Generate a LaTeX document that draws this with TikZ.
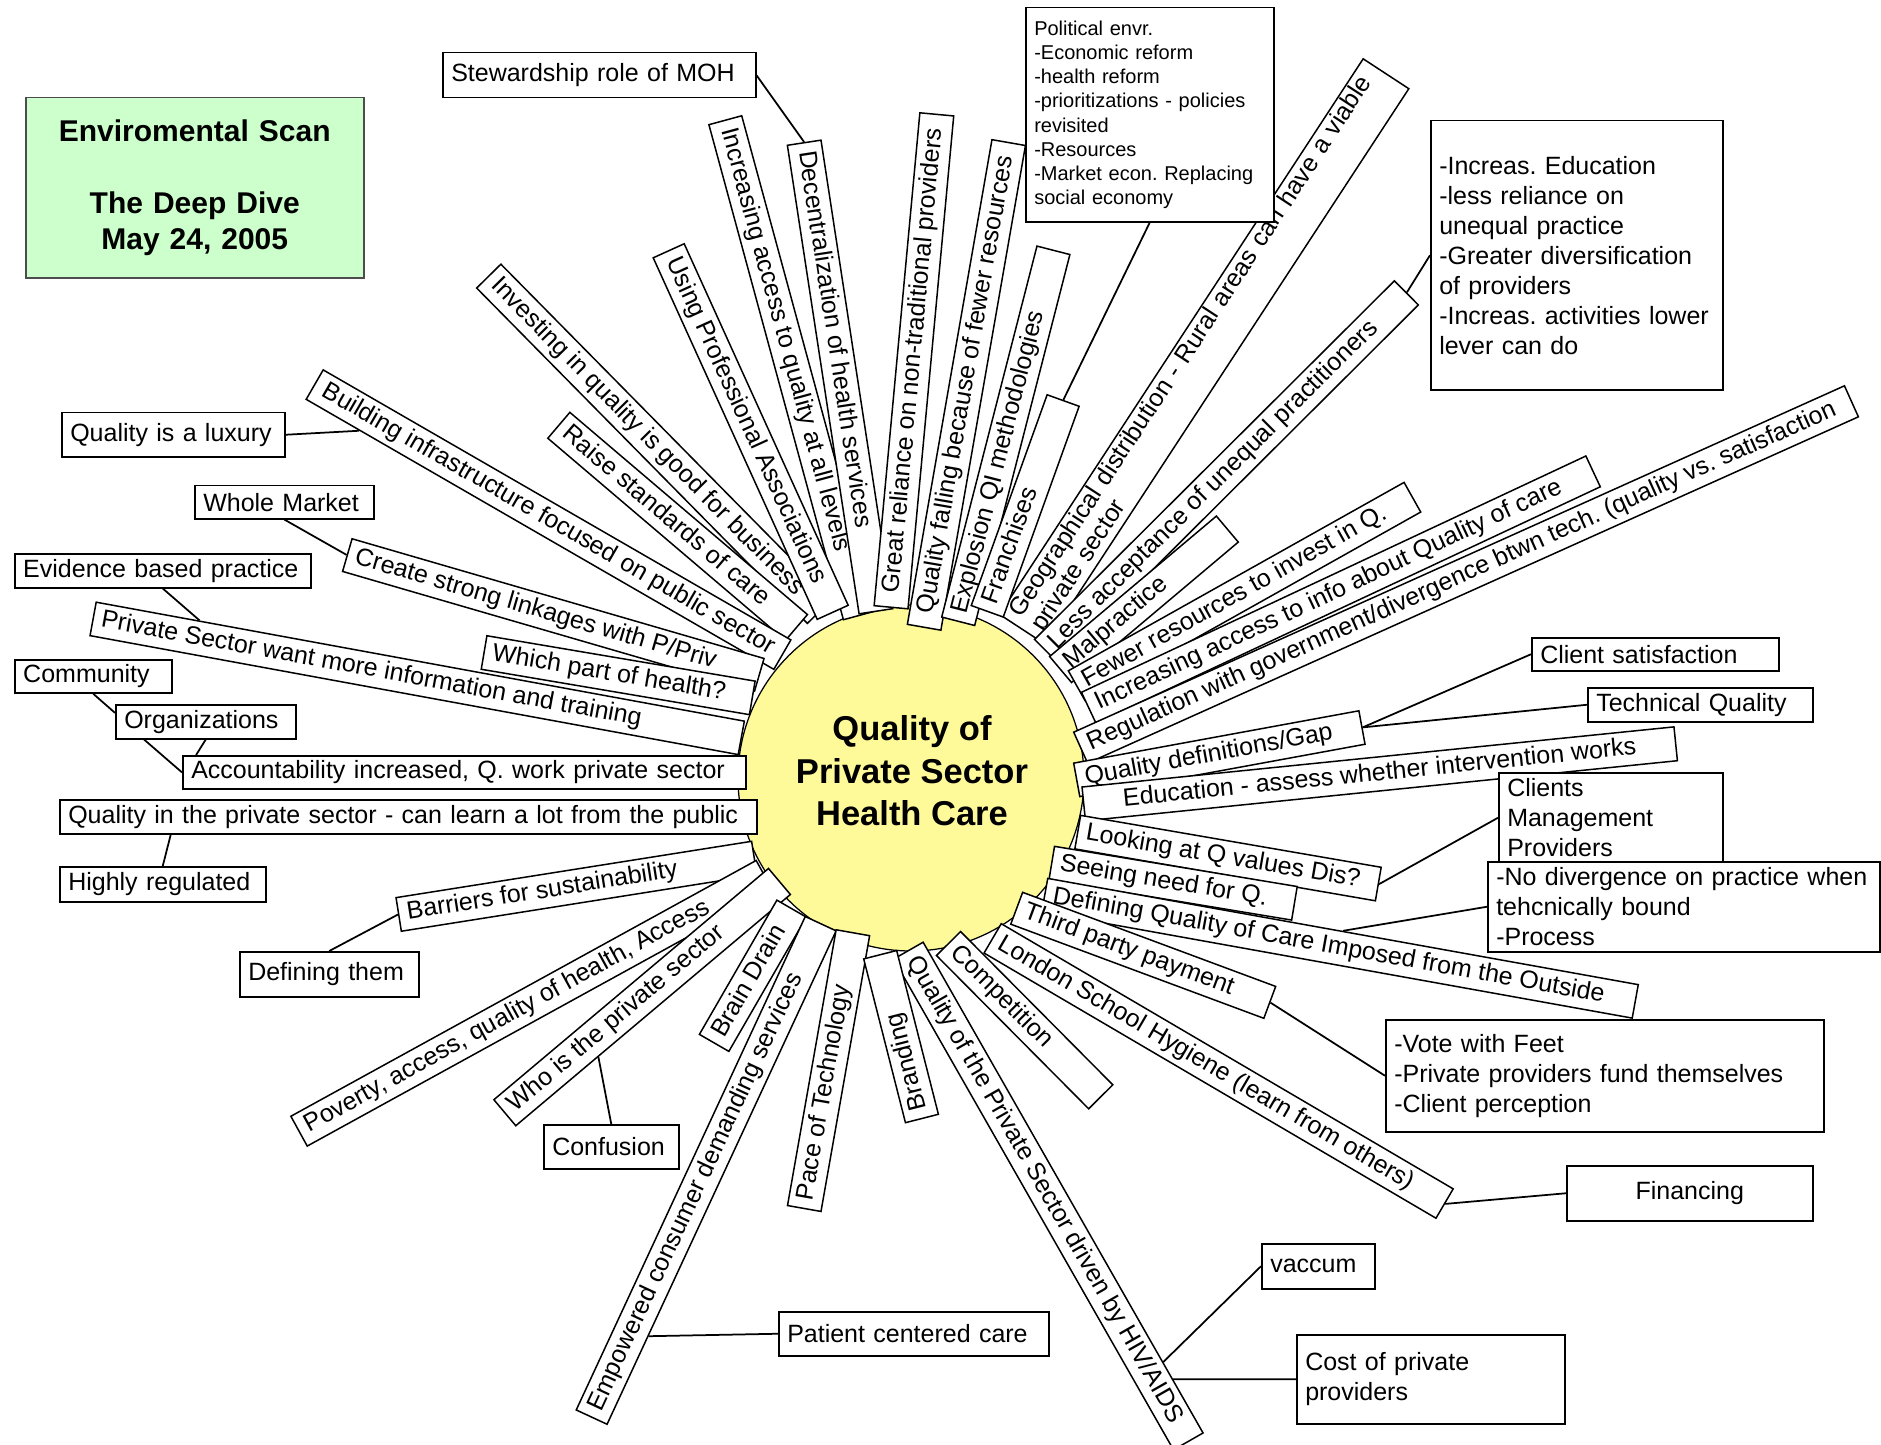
\documentclass[tikz,border=0pt]{standalone}
\usepackage{fontspec}
\setmainfont{Liberation Sans}
\usepackage{tikz}
\usetikzlibrary{calc}
\frenchspacing

\begin{document}
\begin{tikzpicture}[x=0.4pt, y=-0.4pt,
  every node/.style={font=\fontsize{10}{12}\selectfont},
  hub/.style={circle, draw, line width=0.5pt, fill=yellow!40, minimum size=138.4pt, inner sep=0pt},
  spoke/.style={draw, fill=white, line width=0.6pt, inner xsep=3.4pt, inner ysep=0pt,
    minimum height=13.6pt, text height=7.4pt, text depth=2.2pt},
  widespoke/.style={draw, fill=white, line width=0.6pt, inner xsep=3.4pt, inner ysep=1pt,
    align=left, font=\fontsize{10}{10.5}\selectfont},
  note/.style={draw, fill=white, line width=0.6pt, inner xsep=3.4pt, inner ysep=2pt,
    align=left, anchor=north west},
  link/.style={line width=0.7pt}
]
\useasboundingbox (0,0) rectangle (1881,1445);

\node[hub] (hub) at (911,778) {};
\node[font=\fontsize{13.8}{17}\selectfont\bfseries, align=center] (topic) at (912,771)
  {Quality of\\Private Sector\\Health Care};

\node[widespoke, rotate=56.8, anchor=west, text width=258.8pt] (geo) at (1022,630)
  {Geographical distribution - Rural areas can have a viable\\private sector};

\foreach \nm/\px/\py/\rot/\anc/\len/\al/\txt in {
  incacc/860/616/-74.8/east/513/l/{Increasing access to quality at all levels},
  decent/876/612/-81.3/east/474/l/{Decentralization of health services},
  invest/820/612/-45.4/east/471/l/{Investing in quality is good for business},
  profass/833/613/-65.6/east/397/l/{Using Professional Associations},
  raise/797/628/-40.4/east/312/l/{Raise standards of care},
  infra/783/655/-30.0/east/540/c/{Building infrastructure focused on public sector},
  linkage/760/675/-16.2/east/429/l/{Create strong linkages with P/Priv},
  whichpart/753/698/-9.6/east/272/l/{Which part of health?},
  privwant/742/738/-10.4/east/659/l/{Private Sector want more information and training},
  reliance/891/608/84.7/west/495/c/{Great reliance on non-traditional providers},
  falling/924/628/80.1/west/492/c/{Quality falling because of fewer resources},
  explosion/958/622/75.6/west/383/l/{Explosion QI methodologies},
  franchise/987/612/70.2/west/224/l/{Franchises},
  unequal/1046/652/44.9/west/508/l/{Less acceptance of unequal practitioners},
  malpractice/1060/670/40.1/west/218/l/{Malpractice},
  fewer/1076/686/29.3/west/385/l/{Fewer resources to invest in Q.},
  infoacc/1088/708/25.1/west/557/l/{Increasing access to info about Quality of care},
  regulation/1080/748/24.2/west/845/l/{Regulation with government/divergence btwn tech. (quality vs. satisfaction},
  qdef/1076/780/10.4/west/290/l/{Quality definitions/Gap},
  education/1083/804/5.8/west/595/c/{Education - assess whether intervention works},
  looking/1077/832/-9.8/west/305/l/{Looking at Q values Dis?},
  seeing/1051/863/-9.4/west/246/l/{Seeing need for Q.},
  defq/1044/895/-10.2/west/600/l/{Defining Quality of Care Imposed from the Outside},
  thirdparty/1016/908/-20.4/west/270/l/{Third party payment},
  london/992/938/-30.4/west/524/l/{London School Hygiene (learn from others)},
  competition/948/943/-45.2/west/216/l/{Competition},
  hiv/908/950/-60.3/west/565/l/{Quality of the Private Sector driven by HIV/AIDS},
  barriers/755/858/9/east/360/l/{Barriers for sustainability},
  poverty/765/875/28.8/east/531/l/{Poverty, access, quality of health, Access},
  whois/780/881/40.1/east/359/l/{Who is the private sector},
  braindrain/792/908/60/east/155/l/{Brain Drain},
  empowered/821/923/65.1/east/544/l/{Empowered consumer demanding services},
  pace/853/932/80/east/280/l/{Pace of Technology},
  branding/880/954/104.3/east/169/l/{Branding}
}{
  \pgfmathsetlengthmacro\tw{(\len-17)*0.4pt}
  \node[spoke, rotate=\rot, anchor=\anc] (\nm) at (\px,\py) {\makebox[\tw][\al]{\txt}};
}

\node[note, fill=green!20, draw=black!70, align=center, text width=128.4pt, minimum height=72pt,
  font=\fontsize{12}{14.4}\selectfont\bfseries] (scan) at (25,97)
  {Enviromental Scan\\[14.4pt]The Deep Dive\\May 24, 2005};
\node[note, text width=118.4pt, minimum height=18pt] (stew) at (442,52) {Stewardship role of MOH};
\node[note, text width=92.4pt, minimum height=85.6pt, font=\fontsize{8}{9.7}\selectfont] (polit) at (1025,7)
  {Political envr.\\-Economic reform\\-health reform\\-prioritizations - policies\\revisited\\-Resources\\-Market econ. Replacing\\social economy};
\node[note, text width=110pt, minimum height=107.6pt] (incr) at (1430,120)
  {-Increas. Education\\-less reliance on\\unequal practice\\-Greater diversification\\of providers\\-Increas. activities lower\\lever can do};
\node[note, text width=82.4pt, minimum height=17.6pt] (luxury) at (61,412) {Quality is a luxury};
\node[note, text width=64.8pt, minimum height=13.2pt] (market) at (194,485) {Whole Market};
\node[note, text width=111.6pt, minimum height=13.6pt] (evid) at (14,553) {Evidence based practice};
\node[note, text width=56pt, minimum height=13.2pt] (commun) at (14,659) {Community};
\node[note, text width=65.2pt, minimum height=13.6pt] (orgs) at (115,704) {Organizations};
\node[note, text width=218.4pt, minimum height=13.2pt] (acc) at (182,755) {Accountability increased, Q. work private sector};
\node[note, text width=272pt, minimum height=13.6pt] (qin) at (59,799) {Quality in the private sector - can learn a lot from the public};
\node[note, text width=75.6pt, minimum height=14pt] (highly) at (59,866) {Highly regulated};
\node[note, text width=64.8pt, minimum height=18pt] (defthem) at (239,951) {Defining them};
\node[note, text width=47.2pt, minimum height=17.6pt] (confusion) at (543,1124) {Confusion};
\node[note, text width=101.2pt, minimum height=17.6pt] (patient) at (778,1311) {Patient centered care};
\node[note, text width=92pt, minimum height=13.2pt] (client) at (1531,637) {Client satisfaction};
\node[note, text width=83.2pt, minimum height=13.6pt] (tech) at (1587,687) {Technical Quality};
\node[note, text width=82.8pt, minimum height=36pt] (clients) at (1498,772) {Clients\\Management\\Providers};
\node[note, text width=150pt, minimum height=36pt] (nodiv) at (1487,861)
  {-No divergence on practice when\\tehcnically bound\\-Process};
\node[note, text width=168.4pt, minimum height=44.8pt] (vote) at (1385,1019)
  {-Vote with Feet\\-Private providers fund themselves\\-Client perception};
\node[note, align=center, text width=91.6pt, minimum height=22pt] (financing) at (1566,1165) {Financing};
\node[note, text width=38.4pt, minimum height=18pt] (vaccum) at (1261,1243) {vaccum};
\node[note, text width=100.4pt, minimum height=35.6pt] (cost) at (1296,1334) {Cost of private\\providers};

\draw[link] (stew.east) -- (decent.west);
\draw[link] (polit.south) -- (franchise.east);
\draw[link] (incr.west) -- (unequal.east);
\draw[link] (luxury.east) -- ($(infra.south west)!0.115!(infra.south east)$);
\draw[link] (market.south) -- (linkage.west);
\draw[link] (evid.south) -- ($(privwant.north west)!0.16!(privwant.north east)$);
\draw[link] (commun.south) -- ($(orgs.north west)!0.25!(orgs.south west)$);
\draw[link] ($(orgs.south west)!0.16!(orgs.south east)$) -- (acc.west);
\draw[link] (orgs.south) -- ($(acc.north west)!0.025!(acc.north east)$);
\draw[link] ($(qin.south west)!0.16!(qin.south east)$) -- (highly.north);
\draw[link] (barriers.west) -- (defthem.north);
\draw[link] ($(whois.south west)!0.3!(whois.south east)$) -- (confusion.north);
\draw[link] ($(empowered.south west)!0.18!(empowered.south east)$) -- (patient.west);
\draw[link] (qdef.east) -- (client.west);
\draw[link] (qdef.east) -- (tech.west);
\draw[link] (looking.east) -- (clients.west);
\draw[link] (defq.north) -- (nodiv.west);
\draw[link] (thirdparty.east) -- (vote.west);
\draw[link] (london.east) -- (financing.west);
\draw[link] ($(hiv.north west)!0.855!(hiv.north east)$) -- (vaccum.west);
\draw[link] ($(hiv.north west)!0.89!(hiv.north east)$) -- (cost.west);
\end{tikzpicture}
\end{document}
